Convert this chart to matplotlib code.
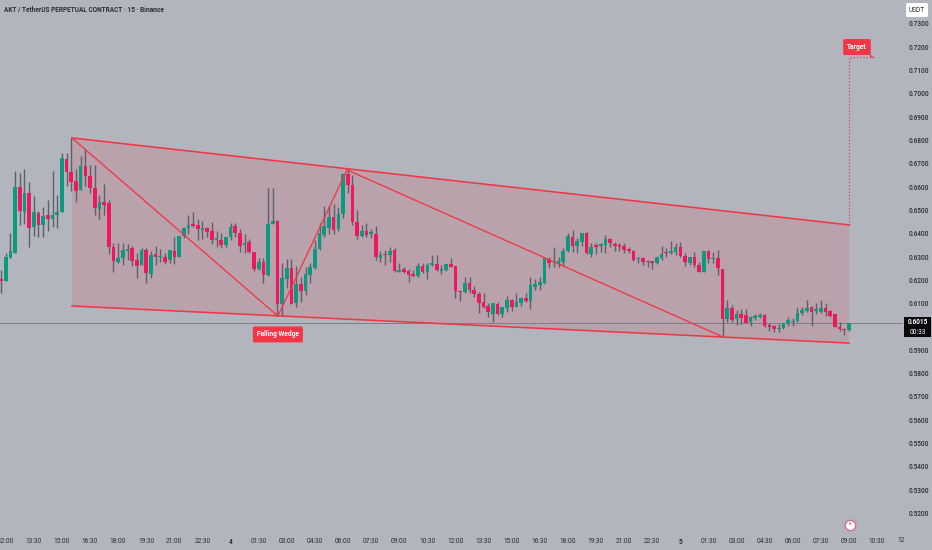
import numpy as np
import matplotlib
matplotlib.use("Agg")
import matplotlib.pyplot as plt
from matplotlib.patches import Rectangle, FancyBboxPatch

plt.rcParams['font.family'] = ['Roboto', 'DejaVu Sans']

# 15 minute candles, index 0 is 12:00 on the 3rd
first_index = -1
opens = [.6204,.6197,.6293,.6317,.6597,.6493,.6573,.6428,.6487,.6436,.6478,.6463,.6478,.6491,.6720,.6664,.6623,.6586,.6689,.6646,
         .6594,.6504,.6534,.6528,.6343,.6277,.6295,.6325,.6335,.6284,.6262,.6328,.6225,.6311,.6297,.6298,.6284,.6324,.6300,.6388,
         .6424,.6440,.6434,.6416,.6423,.6408,.6373,.6371,.6350,.6386,.6431,.6402,.6349,.6362,.6318,.6248,.6276,.6219,.6440,.6452,
         .6096,.6205,.6251,.6099,.6182,.6151,.6222,.6251,.6331,.6394,.6422,.6470,.6417,.6481,.6654,.6607,.6450,.6390,.6408,.6399,
         .6399,.6295,.6311,.6305,.6327,.6235,.6246,.6239,.6224,.6216,.6259,.6234,.6264,.6268,.6239,.6242,.6268,.6259,.6151,.6149,
         .6185,.6157,.6139,.6107,.6088,.6054,.6097,.6054,.6078,.6114,.6085,.6100,.6122,.6111,.6171,.6177,.6188,.6290,.6277,.6274,
         .6278,.6323,.6386,.6346,.6363,.6403,.6311,.6346,.6346,.6348,.6377,.6354,.6351,.6346,.6331,.6324,.6288,.6294,.6278,.6278,
         .6271,.6293,.6317,.6314,.6321,.6340,.6303,.6274,.6297,.6263,.6235,.6326,.6288,.6293,.6248,.6034,.6078,.6031,.6052,.6051,
         .6019,.6037,.6039,.6049,.6004,.6001,.5988,.5992,.6014,.6019,.6025,.6057,.6068,.6082,.6068,.6064,.6079,.6065,.6052,.5999,
         .5991,.5984]
closes = [.6195,.6297,.6324,.6599,.6497,.6573,.6424,.6491,.6436,.6474,.6463,.6478,.6493,.6724,.6664,.6619,.6583,.6689,.6647,.6594,
          .6508,.6534,.6520,.6340,.6280,.6295,.6328,.6333,.6283,.6261,.6328,.6228,.6307,.6297,.6303,.6278,.6328,.6298,.6390,.6423,
          .6436,.6431,.6417,.6423,.6406,.6371,.6376,.6350,.6386,.6427,.6400,.6345,.6359,.6318,.6248,.6276,.6222,.6440,.6454,.6096,
          .6208,.6251,.6096,.6182,.6151,.6225,.6254,.6332,.6402,.6431,.6470,.6414,.6482,.6654,.6607,.6447,.6388,.6410,.6391,.6405,
          .6298,.6308,.6305,.6325,.6238,.6241,.6236,.6221,.6218,.6259,.6234,.6266,.6272,.6242,.6245,.6268,.6257,.6151,.6148,.6185,
          .6157,.6139,.6102,.6084,.6062,.6100,.6052,.6082,.6112,.6082,.6107,.6124,.6111,.6177,.6183,.6191,.6293,.6271,.6283,.6283,
          .6326,.6388,.6346,.6366,.6403,.6314,.6343,.6343,.6354,.6377,.6360,.6346,.6343,.6328,.6326,.6286,.6294,.6278,.6275,.6274,
          .6297,.6313,.6314,.6326,.6340,.6303,.6277,.6297,.6263,.6235,.6326,.6288,.6294,.6250,.6034,.6078,.6028,.6052,.6035,.6017,
          .6039,.6045,.6049,.6001,.6000,.5988,.5995,.6014,.6028,.6025,.6058,.6071,.6079,.6062,.6074,.6078,.6064,.6045,.5999,.5988,
          .5985,.6015]
highs = [.6243,.6314,.6400,.6669,.6657,.6677,.6620,.6560,.6497,.6514,.6543,.6669,.6564,.6743,.6743,.6807,.6674,.6732,.6760,.6693,
         .6693,.6564,.6611,.6543,.6360,.6357,.6360,.6354,.6345,.6314,.6335,.6335,.6325,.6345,.6331,.6317,.6328,.6386,.6390,.6426,
         .6478,.6493,.6463,.6453,.6428,.6450,.6411,.6403,.6386,.6443,.6443,.6417,.6399,.6374,.6321,.6296,.6292,.6595,.6593,.6459,
         .6271,.6289,.6289,.6259,.6214,.6256,.6271,.6371,.6442,.6517,.6517,.6525,.6514,.6654,.6674,.6650,.6502,.6435,.6442,.6420,
         .6431,.6325,.6328,.6342,.6335,.6274,.6257,.6245,.6242,.6271,.6274,.6271,.6306,.6306,.6262,.6268,.6296,.6259,.6151,.6214,
         .6214,.6174,.6149,.6142,.6100,.6102,.6107,.6085,.6132,.6120,.6142,.6125,.6145,.6211,.6203,.6211,.6293,.6300,.6340,.6300,
         .6336,.6400,.6414,.6380,.6403,.6406,.6360,.6357,.6360,.6391,.6380,.6364,.6360,.6360,.6343,.6328,.6297,.6297,.6285,.6283,
         .6297,.6346,.6336,.6366,.6360,.6364,.6314,.6300,.6321,.6278,.6326,.6328,.6321,.6328,.6248,.6114,.6092,.6071,.6074,.6074,
         .6045,.6054,.6059,.6054,.6017,.6007,.6011,.6017,.6039,.6035,.6082,.6085,.6114,.6088,.6102,.6114,.6102,.6071,.6054,.6021,
         .5992,.6015]
lows = [.6145,.6197,.6293,.6317,.6436,.6440,.6343,.6390,.6383,.6386,.6411,.6426,.6421,.6491,.6604,.6581,.6533,.6586,.6604,.6574,
        .6478,.6460,.6478,.6311,.6235,.6271,.6264,.6285,.6261,.6210,.6262,.6188,.6207,.6264,.6278,.6268,.6274,.6268,.6297,.6378,
        .6397,.6426,.6371,.6375,.6383,.6353,.6343,.6335,.6343,.6373,.6386,.6321,.6317,.6314,.6239,.6242,.6188,.6216,.6440,.6045,
        .6049,.6164,.6096,.6082,.6106,.6135,.6185,.6245,.6328,.6385,.6399,.6399,.6411,.6467,.6571,.6435,.6374,.6382,.6385,.6378,
        .6285,.6276,.6264,.6278,.6234,.6232,.6228,.6192,.6214,.6214,.6231,.6205,.6261,.6239,.6225,.6239,.6254,.6121,.6111,.6142,
        .6145,.6128,.6059,.6078,.6040,.6021,.6050,.6042,.6064,.6068,.6082,.6088,.6107,.6074,.6157,.6157,.6183,.6250,.6257,.6254,
        .6264,.6320,.6321,.6317,.6346,.6311,.6300,.6311,.6321,.6314,.6343,.6326,.6326,.6314,.6314,.6283,.6271,.6264,.6254,.6248,
        .6268,.6286,.6297,.6311,.6307,.6300,.6260,.6264,.6257,.6234,.6234,.6274,.6271,.6221,.5957,.6021,.6021,.6007,.6011,.6014,
        .6002,.6028,.6035,.6000,.5981,.5978,.5978,.5989,.6002,.6002,.6021,.6049,.6064,.6002,.6054,.6059,.6045,.6039,.5997,.5982,
        .5964,.5981]

# drawing tools, in candle index and price
wedge_index = [14.15, 180, 180, 14.15]
wedge_price = [.6809, .6436, .5929, .6088]
zigzag_index = [14.15, 58.1, 72.85, 153.1]
zigzag_price = [.6809, .6045, .6672, .5955]
target_index = [180, 180, 185.2]
target_price = [.6436, .7157, .7157]
last_price = 0.6015
countdown = "00:33"

# 0.6000 sits behind the last price box, so it is left out
price_ticks = [round(.52 + .01 * i, 2) for i in range(22) if i != 8]
time_ticks = list(range(0, 187, 6))
time_labels = ["12:00","13:30","15:00","16:30","18:00","19:30","21:00","22:30","4","01:30","03:00","04:30","06:00","07:30",
               "09:00","10:30","12:00","13:30","15:00","16:30","18:00","19:30","21:00","22:30","5","01:30","03:00","04:30",
               "06:00","07:30","09:00","10:30"]

bg = "#b2b5be"
red = "#f0185c"
green = "#0b9a80"
line_red = "#f23645"
text_col = "#2a2d36"
W, H = 932, 550
right, bottom = 903, 532

fig = plt.figure(figsize=(W / 100, H / 100), dpi=100, facecolor=bg)
ax = fig.add_axes([0, (H - bottom) / H, right / W, bottom / H], facecolor=bg)
ax.set_xlim(-5.7 / 4.685, (right - 5.7) / 4.685)
ax.set_ylim(.73 - (bottom - 23.5) / 2331, .73 + 23.5 / 2331)

opens = np.array(opens)
closes = np.array(closes)
x = first_index + np.arange(len(opens))
colors = [green if c >= o else red for o, c in zip(opens, closes)]

ax.fill(wedge_index, wedge_price, color="#bb9fa8", alpha=.85, lw=0, zorder=1)
ax.axhline(last_price, color="#7c7d86", lw=.7, zorder=1.5)
ax.vlines(x, lows, highs, color="#5d5f69", lw=1.0, zorder=2)
heights = np.maximum(np.abs(closes - opens), .0005)
ax.bar(x, heights, bottom=np.minimum(opens, closes), width=.78, color=colors, lw=0, zorder=3)

ax.plot(wedge_index[:2], wedge_price[:2], color=line_red, lw=1.15, zorder=4)
ax.plot(wedge_index[3:1:-1], wedge_price[3:1:-1], color=line_red, lw=1.15, zorder=4)
ax.plot(zigzag_index, zigzag_price, color=line_red, lw=.95, zorder=4)
ax.plot(target_index, target_price, color="#d8405e", lw=.9, ls=(0, (1, 1.6)), zorder=4)
ax.fill([184.2, 185.6, 184.6], [.7172, .7150, .7155], color=line_red, lw=0, zorder=4)

ax.text(58.1, .5966, "Falling Wedge", color="white", fontsize=4.8, fontweight="bold", ha="center", va="center", zorder=6,
        bbox=dict(boxstyle="round,pad=0.6,rounding_size=0.2", fc=line_red, ec="none"))
ax.text(181.7, .7199, "Target", color="white", fontsize=4.8, fontweight="bold", ha="center", va="center", zorder=6,
        bbox=dict(boxstyle="round,pad=0.6,rounding_size=0.2", fc=line_red, ec="none"))

# the small lightning mark near the time axis
ax.plot([180.2], [.5149], marker="o", ms=7.5, mfc="white", mec="#d9698d", mew=1, clip_on=False, zorder=6)
ax.text(180.2, .5149, "\u26a1", family="DejaVu Sans", color="#d81e5b", fontsize=4.5, ha="center", va="center", zorder=7)

ax.set_xticks(time_ticks)
ax.set_xticklabels(time_labels, fontsize=4.7, color=text_col)
ax.set_yticks(price_ticks)
ax.set_yticklabels([f"{p:.4f}" for p in price_ticks], fontsize=4.7, fontweight="medium", color=text_col)
ax.yaxis.tick_right()
ax.tick_params(axis="both", length=0)
ax.tick_params(axis="y", pad=4.3)
ax.tick_params(axis="x", pad=4)
for lab in ax.get_xticklabels():
    if lab.get_text() in ("4", "5"):
        lab.set_fontweight("bold")
for s in ax.spines.values():
    s.set_visible(False)
fig.text(901 / W, 1 - 541 / H, "12", fontsize=4.7, color=text_col, ha="center", va="center")

fig.text(4 / W, 1 - 10 / H, "AKT / TetherUS PERPETUAL CONTRACT \u00b7 15 \u00b7 Binance", fontsize=4.7,
         fontweight="bold", color=text_col, ha="left", va="center")

# boxes on the price scale
fig.add_artist(FancyBboxPatch((906 / W, 1 - 17 / H), 22 / W, 14 / H, boxstyle="round,pad=0,rounding_size=0.002",
                              transform=fig.transFigure, fc="white", ec="none"))
fig.text(917 / W, 1 - 10.2 / H, "USDT", fontsize=4.7, color=text_col, ha="center", va="center")
fig.add_artist(Rectangle((904 / W, 1 - 337 / H), 27 / W, 20 / H, transform=fig.transFigure, fc="#0a0a0c", ec="none", zorder=5))
fig.text(917.5 / W, 1 - 322.5 / H, f"{last_price:.4f}", fontsize=4.7, color="white", fontweight="bold", ha="center", va="center", zorder=6)
fig.text(917.5 / W, 1 - 332 / H, countdown, fontsize=4.7, color="white", ha="center", va="center", zorder=6)

fig.savefig("out.png", dpi=100, facecolor=bg)
